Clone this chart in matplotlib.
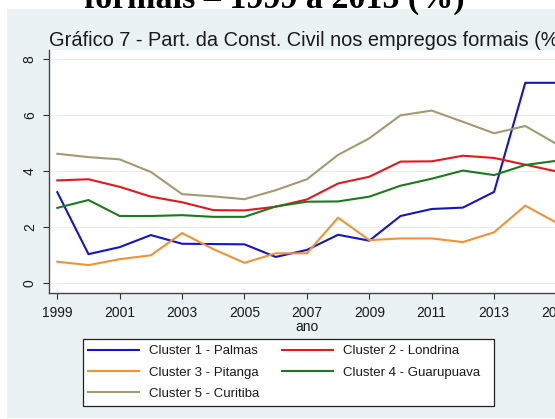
import matplotlib
matplotlib.use("Agg")
import matplotlib.pyplot as plt
from matplotlib.patches import Rectangle

plt.rcParams['font.family'] = ['Liberation Sans', 'DejaVu Sans']

years = list(range(1999, 2016))
palmas = [3.25, 1.04, 1.29, 1.72, 1.41, 1.40, 1.39, 0.94, 1.19, 1.73, 1.52, 2.40, 2.65, 2.70, 3.26, 7.15, 7.15]
londrina = [3.67, 3.71, 3.44, 3.09, 2.89, 2.61, 2.60, 2.73, 2.99, 3.56, 3.80, 4.34, 4.35, 4.55, 4.47, 4.23, 3.99]
pitanga = [0.77, 0.65, 0.86, 1.00, 1.79, 1.22, 0.73, 1.07, 1.07, 2.34, 1.54, 1.60, 1.60, 1.47, 1.82, 2.77, 2.16]
guarapuava = [2.69, 2.97, 2.40, 2.40, 2.43, 2.37, 2.37, 2.74, 2.91, 2.92, 3.09, 3.48, 3.73, 4.02, 3.86, 4.22, 4.37]
curitiba = [4.62, 4.50, 4.42, 3.97, 3.18, 3.10, 3.00, 3.32, 3.71, 4.58, 5.17, 5.99, 6.16, 5.76, 5.35, 5.61, 4.97]

labels = ["Cluster 1 - Palmas", "Cluster 2 - Londrina", "Cluster 3 - Pitanga",
          "Cluster 4 - Guarupuava", "Cluster 5 - Curitiba"]
colors = ['#1414c8', '#e4181d', '#f29232', '#1b7b1b', '#a49a70']
xticks = list(range(1999, 2016, 2))
yticks = [0, 2, 4, 6, 8]

W, H = 555, 419
fig = plt.figure(figsize=(W / 100, H / 100), dpi=100)
fig.patch.set_facecolor('white')

# background band
bg = Rectangle((7 / W, 1 / H), 1.0, (H - 9.5 - 1) / H, transform=fig.transFigure,
               facecolor='#eaf2f3', edgecolor='none', zorder=-5)
fig.patches.append(bg)

# clipped heading from document
fig.text(84 / W, (H - 8) / H, "formais – 1999 a 2015 (%)", family='Liberation Serif',
         weight='bold', fontsize=24.5, ha='left', va='baseline', color='black', zorder=1)

# chart title
fig.text(49 / W, (H - 40) / H, "Gráfico 7 - Part. da Const. Civil nos empregos formais (%)",
         fontsize=14.4, ha='left', va='center', color='#1a1a1a', zorder=1)

px_per_year = 31.2
x0 = 1998.744
x1 = 2015.256
left = 49.3
right = left + (x1 - x0) * px_per_year
ax_top, ax_bot = 50.0, 292.7
ax = fig.add_axes([left / W, (H - ax_bot) / H, (right - left) / W, (ax_bot - ax_top) / H])
ax.set_zorder(1)
ax.set_facecolor('white')
ax.set_xlim(x0, x1)
ax.set_ylim(-0.335, 8.32)

series = [palmas, londrina, pitanga, guarapuava, curitiba]
handles = []
for vals, c, lab in zip(series, colors, labels):
    h, = ax.plot(years, vals, color=c, lw=1.5, label=lab, solid_joinstyle='round', zorder=3)
    handles.append(h)

ax.set_xticks(xticks)
ax.set_xticklabels([str(t) for t in xticks])
ax.set_yticks(yticks)
ax.set_yticklabels([str(t) for t in yticks], rotation=90, va='center')
ax.tick_params(axis='both', labelsize=10, colors='#333333', labelcolor='#1a1a1a',
               length=4.5, width=0.8, direction='out')
ax.tick_params(axis='x', pad=5)
ax.tick_params(axis='y', pad=4.5)
ax.grid(axis='y', color='#e4edef', lw=0.8, zorder=1)
ax.set_axisbelow(True)
for s in ['top', 'right']:
    ax.spines[s].set_visible(False)
for s in ['left', 'bottom']:
    ax.spines[s].set_color('#444444')
    ax.spines[s].set_linewidth(1.0)
ax.set_xlabel("ano", fontsize=10, color='#1a1a1a', labelpad=0)

# legend frame
frame = Rectangle((83 / W, (H - 405.7) / H), (494 - 83) / W, (405.7 - 339) / H,
                  transform=fig.transFigure, facecolor='white', edgecolor='#222222',
                  lw=0.9, zorder=4)
fig.patches.append(frame)

order = [0, 2, 4, 1, 3]
leg = fig.legend([handles[i] for i in order], [labels[i] for i in order],
                 ncol=2, frameon=False, fontsize=9.5,
                 loc='upper left', bbox_to_anchor=(85 / W, (H - 342.5) / H),
                 borderpad=0.2, handlelength=3.9, handletextpad=0.75,
                 columnspacing=1.7, labelspacing=0.68, borderaxespad=0)
leg.set_zorder(5)
for t in leg.get_texts():
    t.set_color('#1a1a1a')
for l in leg.get_lines():
    l.set_linewidth(1.5)

fig.savefig("out.png", dpi=100)
